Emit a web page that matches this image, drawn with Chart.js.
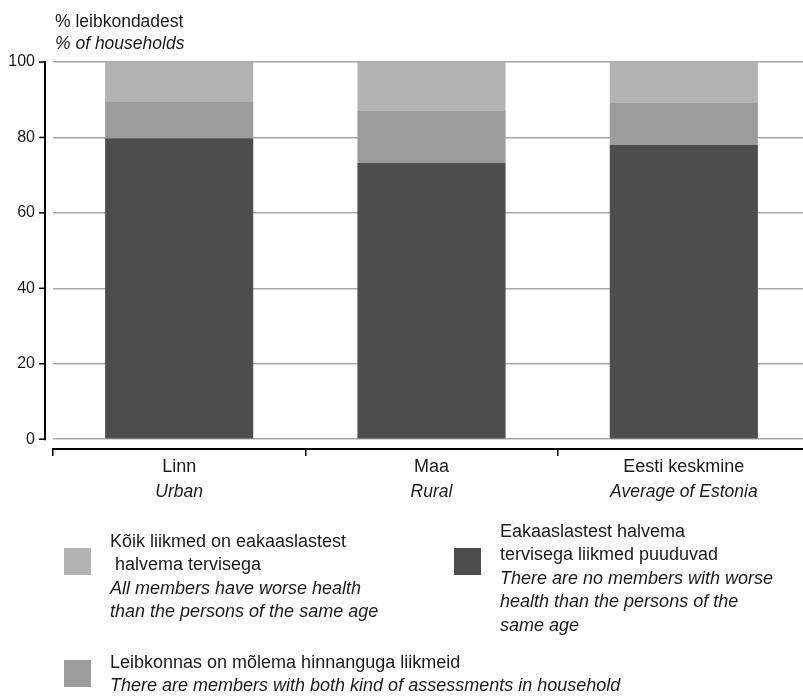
<!DOCTYPE html>
<html>
<head>
<meta charset="utf-8">
<script src="https://cdn.jsdelivr.net/npm/chart.js@4"></script>
<style>
  body { margin: 0; background: #fff; font-family: "Liberation Sans", Arial, sans-serif; color: #1a1a1a; }
  #wrap { position: relative; width: 803px; height: 697px; overflow: hidden; }
  #box { position: absolute; left: 0; top: 0; width: 820px; height: 697px; }
  .t { position: absolute; font-size: 18px; line-height: 23.4px; white-space: nowrap; }
  .h { font-size: 17.5px; line-height: 21.5px; }
  .i { font-style: italic; }
  .sq { position: absolute; width: 27px; height: 27px; }
</style>
</head>
<body>
<div id="wrap">
  <div id="box"><canvas id="c"></canvas></div>

  <div class="t h" style="left:55px; top:11px;">% leibkondadest</div>
  <div class="t h i" style="left:55px; top:33px;">% of households</div>

  <div class="sq" style="left:64px; top:548px; background:#b3b3b3;"></div>
  <div class="t" style="left:110px; top:530px;">Kõik liikmed on eakaaslastest<br>&nbsp;halvema tervisega<br><span class="i">All members have worse health<br>than the persons of the same age</span></div>

  <div class="sq" style="left:454px; top:548px; background:#4d4d4d;"></div>
  <div class="t" style="left:500px; top:520px;">Eakaaslastest halvema<br>tervisega liikmed puuduvad<br><span class="i">There are no members with worse<br>health than the persons of the<br>same age</span></div>

  <div class="sq" style="left:64px; top:660px; background:#9c9c9c;"></div>
  <div class="t" style="left:110px; top:651px;">Leibkonnas on mõlema hinnanguga liikmeid<br><span class="i">There are members with both kind of assessments in household</span></div>
</div>

<script>
// categories (Estonian / English)
var categories = ['Linn', 'Maa', 'Eesti keskmine'];
var categoriesEn = ['Urban', 'Rural', 'Average of Estonia'];

// % of households
var noWorse = [79.8, 73.2, 78.0];     // no members with worse health
var bothKinds = [9.8, 13.8, 11.1];    // both kinds of assessments
var allWorse = [10.4, 13.0, 10.9];    // all members worse health

var yTicks = [0, 20, 40, 60, 80, 100];

// y axis line drawn a little left of the plot, x labels in two fonts
var axisPlugin = {
  id: 'axisPlugin',
  afterDraw: function (chart) {
    var ctx = chart.ctx;
    var y = chart.scales.y;
    var x = chart.scales.x;
    var ax = chart.chartArea.left - 8;
    ctx.save();
    ctx.strokeStyle = '#000';
    ctx.lineWidth = 2;
    ctx.beginPath();
    ctx.moveTo(ax, y.getPixelForValue(100) - 1);
    ctx.lineTo(ax, y.getPixelForValue(0) + 1);
    ctx.stroke();
    ctx.lineWidth = 1.5;
    yTicks.forEach(function (v) {
      var py = y.getPixelForValue(v);
      ctx.beginPath();
      ctx.moveTo(ax - 6, py);
      ctx.lineTo(ax, py);
      ctx.stroke();
    });

    ctx.fillStyle = '#1a1a1a';
    ctx.textAlign = 'center';
    ctx.textBaseline = 'middle';
    categories.forEach(function (c, i) {
      var px = x.getPixelForTick(i);
      ctx.font = '18px "Liberation Sans", Arial, sans-serif';
      ctx.fillText(c, px, chart.chartArea.bottom + 18);
      ctx.font = 'italic 17.5px "Liberation Sans", Arial, sans-serif';
      ctx.fillText(categoriesEn[i], px, chart.chartArea.bottom + 43);
    });
    ctx.restore();
  }
};

new Chart(document.getElementById('c'), {
  type: 'bar',
  data: {
    labels: categories,
    datasets: [
      { label: 'Eakaaslastest halvema tervisega liikmed puuduvad', data: noWorse, backgroundColor: '#4d4d4d' },
      { label: 'Leibkonnas on mõlema hinnanguga liikmeid', data: bothKinds, backgroundColor: '#9c9c9c' },
      { label: 'Kõik liikmed on eakaaslastest halvema tervisega', data: allWorse, backgroundColor: '#b3b3b3' }
    ]
  },
  options: {
    responsive: true,
    maintainAspectRatio: false,
    animation: false,
    layout: { padding: { top: 62, right: 10, bottom: 241, left: 0 } },
    datasets: { bar: { categoryPercentage: 1, barPercentage: 0.587 } },
    plugins: {
      legend: { display: false },
      tooltip: { enabled: false }
    },
    scales: {
      x: {
        stacked: true,
        border: { display: true, color: '#000', width: 2 },
        grid: { drawOnChartArea: false, drawTicks: true, tickLength: 7, color: '#000', lineWidth: 1.5, offset: true },
        ticks: { display: false }
      },
      y: {
        stacked: true,
        min: -2.6,
        max: 100,
        afterBuildTicks: function (s) { s.ticks = yTicks.map(function (v) { return { value: v }; }); },
        afterFit: function (s) { s.width = 53; },
        border: { display: false },
        grid: { color: '#a8a8a8', lineWidth: 1.5, drawTicks: false },
        ticks: { padding: 18, color: '#1a1a1a', font: { family: '"Liberation Sans", Arial, sans-serif', size: 16 } }
      }
    }
  },
  plugins: [axisPlugin]
});
</script>
</body>
</html>
